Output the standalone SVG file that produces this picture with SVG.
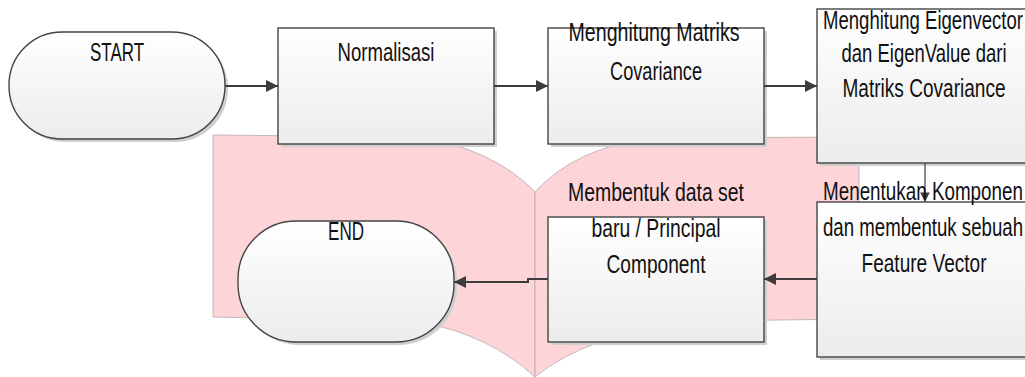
<svg xmlns="http://www.w3.org/2000/svg" width="1025" height="377" viewBox="0 0 1025 377">
<defs>
<linearGradient id="g" x1="0" y1="0" x2="0" y2="1">
<stop offset="0" stop-color="#ffffff"/>
<stop offset="1" stop-color="#ececec"/>
</linearGradient>
<marker id="ah" viewBox="0 0 10 10" refX="10" refY="5" markerWidth="6" markerHeight="6" orient="auto" markerUnits="strokeWidth">
<path d="M0,0 L10,5 L0,10 Z" fill="#3c3c3c"/>
</marker>
<marker id="ahs" viewBox="0 0 10 10" refX="10" refY="5" markerWidth="8" markerHeight="8" orient="auto" markerUnits="strokeWidth">
<path d="M0,0 L10,5 L0,10 Z" fill="#3c3c3c"/>
</marker>
</defs>
<style>
.page{fill:#fdd5d9;stroke:#b8a8aa;stroke-width:0.8}
.shape{fill:url(#g);stroke:#444;stroke-width:1.4}
.shadow{fill:#cfcfcf}
.t{font-family:"Liberation Sans",Arial,sans-serif;font-size:26px;fill:#111;text-anchor:middle}
.c{fill:none;stroke:#3c3c3c;stroke-width:2}
.c1{fill:none;stroke:#3c3c3c;stroke-width:1.2}
</style>
<g id="book">
<path class="page" d="M213,135 L420,137 Q495,150 535,192 L535,377 Q490,335 420,322 L213,317 Z"/>
<path class="page" d="M535,192 Q575,148 650,138 L859,137 L859,319 L700,321 Q590,332 535,377 Z"/>
</g>
<g id="start">
<rect class="shadow" x="12" y="35" width="216" height="107" rx="53"/>
<rect class="shape" x="9" y="32" width="216" height="107" rx="53"/>
<text class="t" transform="translate(117,61) scale(0.71,1)" x="0" y="0" textLength="76.1" lengthAdjust="spacingAndGlyphs">START</text>
</g>
<g id="normalisasi">
<rect class="shadow" x="281" y="31" width="216" height="116"/>
<rect class="shape" x="278" y="28" width="216" height="116"/>
<text class="t" transform="translate(386,61) scale(0.71,1)" x="0" y="0" textLength="136.6" lengthAdjust="spacingAndGlyphs">Normalisasi</text>
</g>
<g id="covariance">
<rect class="shadow" x="551" y="31" width="216" height="116"/>
<rect class="shape" x="548" y="28" width="216" height="116"/>
<text class="t" transform="translate(654,41) scale(0.71,1)" x="0" y="0" textLength="240.8" lengthAdjust="spacingAndGlyphs">Menghitung Matriks</text>
<text class="t" transform="translate(656,80) scale(0.71,1)" x="0" y="0" textLength="129.6" lengthAdjust="spacingAndGlyphs">Covariance</text>
</g>
<g id="eigen">
<rect class="shadow" x="820" y="12" width="210" height="154"/>
<rect class="shape" x="817" y="9" width="209" height="154"/>
<text class="t" transform="translate(923,29) scale(0.71,1)" x="0" y="0" textLength="281.7" lengthAdjust="spacingAndGlyphs">Menghitung Eigenvector</text>
<text class="t" transform="translate(924,62) scale(0.71,1)" x="0" y="0" textLength="232.4" lengthAdjust="spacingAndGlyphs">dan EigenValue dari</text>
<text class="t" transform="translate(924,97) scale(0.71,1)" x="0" y="0" textLength="229.6" lengthAdjust="spacingAndGlyphs">Matriks Covariance</text>
</g>
<g id="menentukan">
<rect class="shadow" x="820" y="205" width="210" height="155"/>
<rect class="shape" x="817" y="202" width="209" height="155"/>
</g>
<g id="membentuk">
<rect class="shadow" x="551" y="220" width="216" height="125"/>
<rect class="shape" x="548" y="217" width="216" height="125"/>
<text class="t" transform="translate(656,201) scale(0.71,1)" x="0" y="0" textLength="247.9" lengthAdjust="spacingAndGlyphs">Membentuk data set</text>
<text class="t" transform="translate(656,237) scale(0.71,1)" x="0" y="0" textLength="181.7" lengthAdjust="spacingAndGlyphs">baru / Principal</text>
<text class="t" transform="translate(656,273) scale(0.71,1)" x="0" y="0" textLength="139.4" lengthAdjust="spacingAndGlyphs">Component</text>
</g>
<g id="end">
<rect class="shadow" x="241" y="224" width="216" height="121" rx="58"/>
<rect class="shape" x="238" y="221" width="216" height="121" rx="58"/>
<text class="t" transform="translate(346,240) scale(0.71,1)" x="0" y="0" textLength="50.7" lengthAdjust="spacingAndGlyphs">END</text>
</g>
<g id="connectors">
<path class="c" d="M225,86 L278,86" marker-end="url(#ah)"/>
<path class="c" d="M494,86 L548,86" marker-end="url(#ah)"/>
<path class="c" d="M764,86 L817,86" marker-end="url(#ah)"/>
<path class="c1" d="M925,163 L925,202" marker-end="url(#ahs)"/>
<path class="c" d="M817,279 L764,279" marker-end="url(#ah)"/>
<path class="c" d="M548,279 L528,279 L528,282 L454,282" marker-end="url(#ah)"/>
</g>
<g id="menentukan-text">
<text class="t" transform="translate(923,200) scale(0.71,1)" x="0" y="0" textLength="281.7" lengthAdjust="spacingAndGlyphs">Menentukan Komponen</text>
<text class="t" transform="translate(923,236) scale(0.71,1)" x="0" y="0" textLength="281.7" lengthAdjust="spacingAndGlyphs">dan membentuk sebuah</text>
<text class="t" transform="translate(924,272) scale(0.71,1)" x="0" y="0" textLength="176.1" lengthAdjust="spacingAndGlyphs">Feature Vector</text>
</g>
</svg>
